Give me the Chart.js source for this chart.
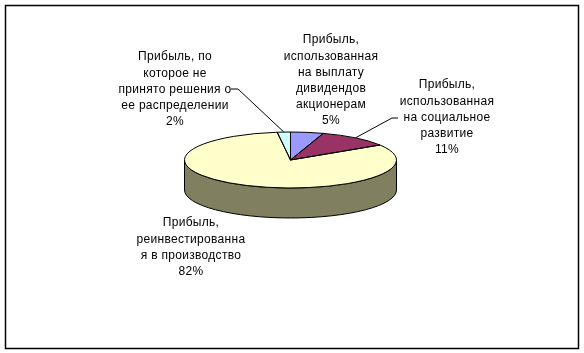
<!DOCTYPE html>
<html>
<head>
<meta charset="utf-8">
<style>
  html, body { margin: 0; padding: 0; background: #fff; }
  #wrap { width: 584px; height: 353px; }
</style>
<script src="https://cdn.jsdelivr.net/npm/chart.js@4/dist/chart.umd.min.js"></script>
</head>
<body>
<div id="wrap"><canvas id="chart" width="584" height="353"></canvas></div>
<script>
var categories = [
  'Прибыль, использованная на выплату дивидендов акционерам',
  'Прибыль, использованная на социальное развитие',
  'Прибыль, реинвестированная в производство',
  'Прибыль, по которое не принято решения о ее распределении'
];
var values = [5, 11, 82, 2];
var sliceColors = ['#9999ff', '#993366', '#ffffcc', '#ccffff'];

// label lines are wrapped the same way as in the picture
var labelLines = [
  ['Прибыль,', 'использованная', 'на выплату', 'дивидендов', 'акционерам', '5%'],
  ['Прибыль,', 'использованная', 'на социальное', 'развитие', '11%'],
  ['Прибыль,', 'реинвестированна', 'я в производство', '82%'],
  ['Прибыль, по', 'которое не', 'принято решения о', 'ее распределении', '2%']
];
var labelBox = [
  { x: 331, y: 40 },
  { x: 447, y: 85 },
  { x: 191, y: 223 },
  { x: 175, y: 57 }
];
var leaders = [
  null,
  [[392, 118], [398, 118]],
  null,
  [[238, 89], [231, 89]]
];

var tilt = 0.264;
var depth = 30;
var wallColor = '#808060';

function squash(ctx, cy) {
  ctx.translate(0, cy);
  ctx.scale(1, tilt);
  ctx.translate(0, -cy);
}

var pie3d = {
  id: 'pie3d',
  beforeDatasetsDraw: function (chart) {
    var ctx = chart.ctx;
    var arc = chart.getDatasetMeta(0).data[0];
    var cx = arc.x, cy = arc.y, r = arc.outerRadius;

    // side wall, only the front half is visible
    ctx.save();
    ctx.beginPath();
    ctx.ellipse(cx, cy, r, r * tilt, 0, 0, Math.PI);
    ctx.lineTo(cx - r, cy + depth);
    ctx.ellipse(cx, cy + depth, r, r * tilt, 0, Math.PI, 0, true);
    ctx.closePath();
    ctx.fillStyle = wallColor;
    ctx.fill();
    ctx.strokeStyle = '#000';
    ctx.lineWidth = 1;
    ctx.stroke();
    ctx.restore();

    ctx.save();
    squash(ctx, cy);
  },
  afterDatasetsDraw: function (chart) {
    var ctx = chart.ctx;
    ctx.restore();

    // outlines with an even pen: path squashed, stroke not
    chart.getDatasetMeta(0).data.forEach(function (arc) {
      ctx.save();
      squash(ctx, arc.y);
      ctx.beginPath();
      ctx.moveTo(arc.x, arc.y);
      ctx.arc(arc.x, arc.y, arc.outerRadius, arc.startAngle, arc.endAngle);
      ctx.closePath();
      ctx.restore();
      ctx.strokeStyle = '#000';
      ctx.lineWidth = 1;
      ctx.stroke();
    });
  },
  afterDraw: function (chart) {
    var ctx = chart.ctx;
    var arcs = chart.getDatasetMeta(0).data;

    // frame around the whole chart
    ctx.save();
    ctx.strokeStyle = '#000';
    ctx.lineWidth = 1.5;
    ctx.strokeRect(5.5, 5.5, 573, 343);

    // leader lines start on the rim at the middle of the slice
    ctx.lineWidth = 1;
    leaders.forEach(function (points, i) {
      if (!points) return;
      var arc = arcs[i];
      var mid = (arc.startAngle + arc.endAngle) / 2;
      ctx.beginPath();
      ctx.moveTo(arc.x + arc.outerRadius * Math.cos(mid), arc.y + arc.outerRadius * tilt * Math.sin(mid));
      points.forEach(function (p) { ctx.lineTo(p[0], p[1]); });
      ctx.stroke();
    });

    // labels
    ctx.fillStyle = '#000';
    ctx.font = '12px "Liberation Sans", Arial, sans-serif';
    ctx.letterSpacing = '0.3px';
    ctx.textAlign = 'center';
    ctx.textBaseline = 'middle';
    labelLines.forEach(function (lines, i) {
      lines.forEach(function (line, j) {
        ctx.fillText(line, labelBox[i].x, labelBox[i].y + j * 16.2);
      });
    });
    ctx.restore();
  }
};

new Chart(document.getElementById('chart').getContext('2d'), {
  type: 'pie',
  data: {
    labels: categories,
    datasets: [{
      data: values,
      backgroundColor: sliceColors,
      borderWidth: 0
    }]
  },
  options: {
    responsive: false,
    animation: false,
    layout: { padding: { left: 184.5, right: 187.5, top: 54, bottom: 87 } },
    plugins: {
      legend: { display: false },
      tooltip: { enabled: false }
    }
  },
  plugins: [pie3d]
});
</script>
</body>
</html>
